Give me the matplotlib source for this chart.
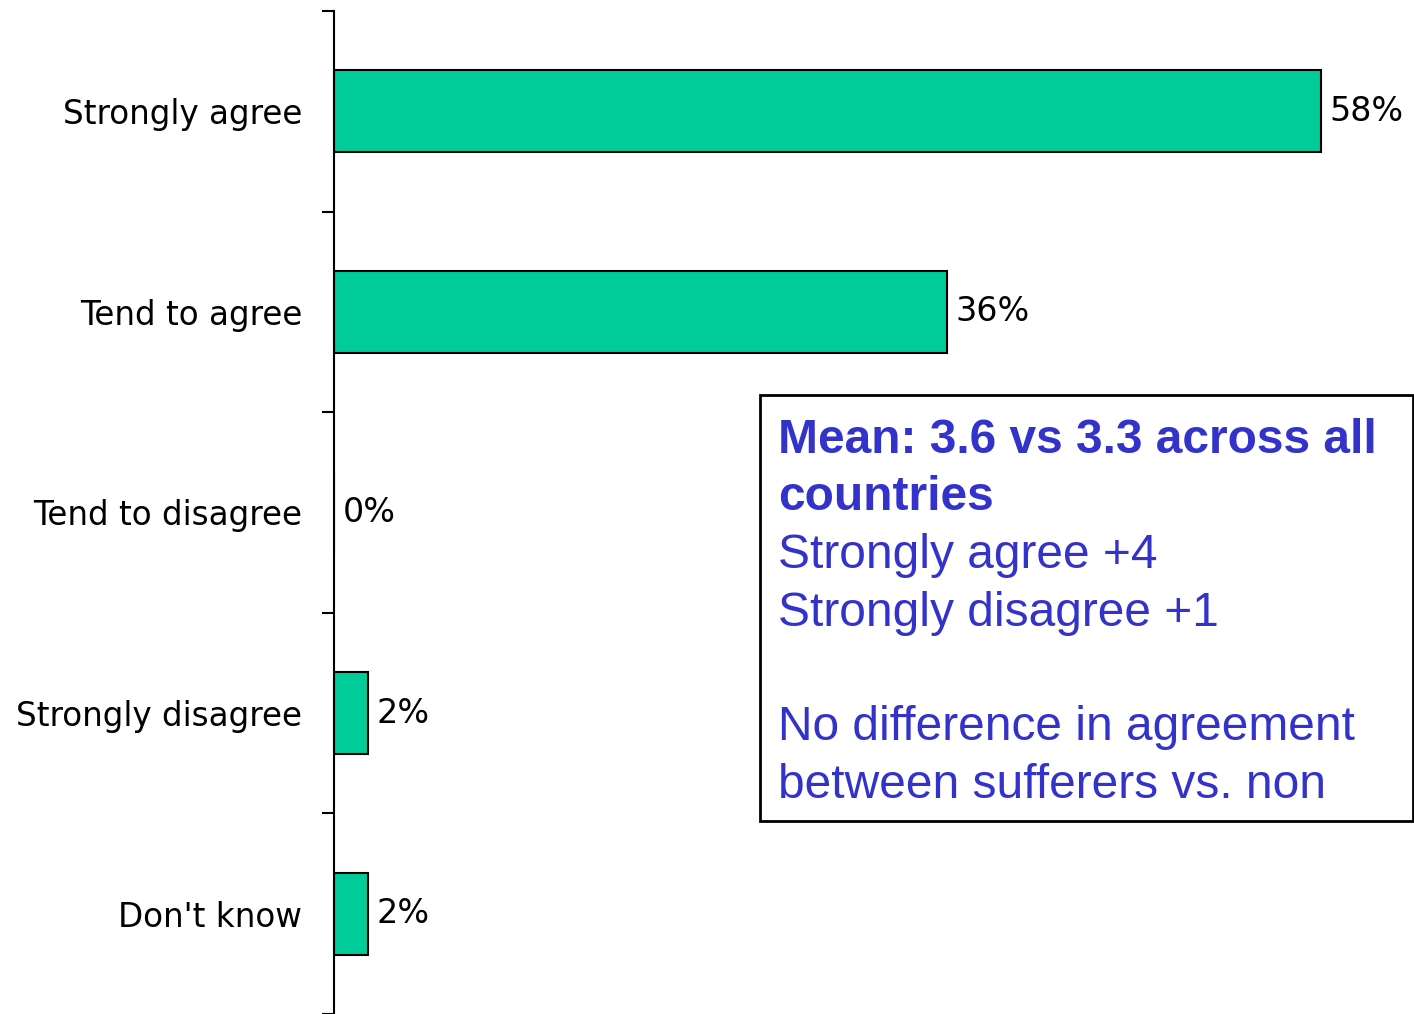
import matplotlib
matplotlib.use("Agg")
import matplotlib.pyplot as plt
from matplotlib.patches import Rectangle

# survey answers and share of respondents (%)
answers = ["Strongly agree", "Tend to agree", "Tend to disagree", "Strongly disagree", "Don't know"]
shares = [58, 36, 0, 2, 2]

note_bold = ["Mean: 3.6 vs 3.3 across all", "countries"]
note_plain = ["Strongly agree +4", "Strongly disagree +1", "", "No difference in agreement", "between sufferers vs. non"]

W, H = 1414, 1014
plt.rcParams['font.family'] = ['Liberation Sans', 'DejaVu Sans']
label_font = ['DejaVu Sans']

fig = plt.figure(figsize=(W / 100, H / 100), dpi=100)
ax = fig.add_axes([334 / W, 0, 1 - 334 / W, 1 - 11 / H])

pos = list(range(len(answers)))
ax.barh(pos, shares, height=0.41, color="#00CC99", edgecolor="black", linewidth=1.5)
ax.set_ylim(len(answers) - 0.5, -0.5)
ax.set_xlim(0, (W - 334) / 17.02)

for p, v in zip(pos, shares):
    ax.text(v + 0.5, p, f"{v}%", va="center", ha="left", fontsize=24, family=label_font)

ax.set_yticks(pos)
ax.set_yticklabels(answers, fontsize=23.5, family=label_font)
ax.tick_params(axis="y", which="major", length=0, pad=23)
ax.set_yticks([p - 0.5 for p in pos] + [len(answers) - 0.5], minor=True)
ax.tick_params(axis="y", which="minor", length=9, width=1.5, direction="out")
ax.set_xticks([])
for s in ["top", "right", "bottom"]:
    ax.spines[s].set_visible(False)
ax.spines["left"].set_linewidth(1.5)

# annotation box
fig.add_artist(Rectangle((760 / W, 1 - 821 / H), (1413 - 760) / W, (821 - 395) / H,
                         transform=fig.transFigure, fill=False, edgecolor="black", linewidth=2))
blue = "#3333CC"
y = 453
for line in note_bold:
    fig.text(778 / W, 1 - y / H, line, color=blue, fontsize=34.5, fontweight="bold", va="baseline")
    y += 57.5
for line in note_plain:
    fig.text(778 / W, 1 - y / H, line, color=blue, fontsize=34.5, va="baseline")
    y += 57.5

fig.savefig("out.png", dpi=100)
